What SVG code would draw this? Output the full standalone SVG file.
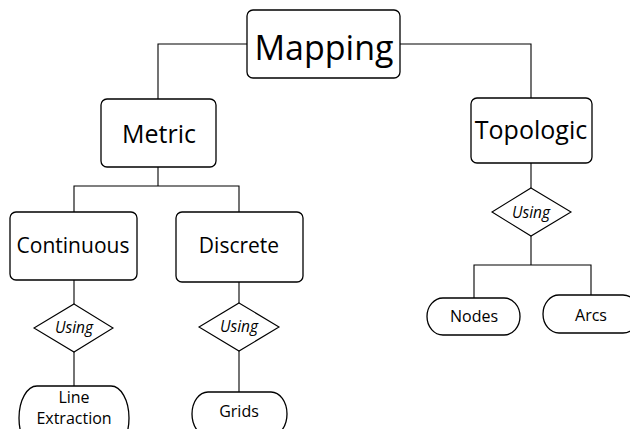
<svg xmlns="http://www.w3.org/2000/svg" width="630" height="429" viewBox="0 0 630 429">
  <style>
    .box { fill: #fff; stroke: #000; stroke-width: 1.3; }
    .dia { fill: #fff; stroke: #000; stroke-width: 1.1; }
    .edge { fill: none; stroke: #000; stroke-width: 1.1; }
    text { font-family: "Open Sans", "Liberation Sans", sans-serif; fill: #000; text-anchor: middle; }
    .using { font-style: italic; font-size: 15.5px; }
    .leaf { font-size: 16px; }
  </style>
  <rect width="630" height="429" fill="#fff"/>

  <g id="connectors">
    <polyline class="edge" points="247,44 158,44 158,99"/>
    <polyline class="edge" points="400,44 531,44 531,98"/>
    <line class="edge" x1="158" y1="167" x2="158" y2="186"/>
    <polyline class="edge" points="74,212 74,186 239,186 239,212"/>
    <line class="edge" x1="74" y1="280" x2="74" y2="304"/>
    <line class="edge" x1="74" y1="352" x2="74" y2="386"/>
    <line class="edge" x1="239" y1="282" x2="239" y2="303"/>
    <line class="edge" x1="239" y1="351" x2="239" y2="392"/>
    <line class="edge" x1="531" y1="163" x2="531" y2="188"/>
    <line class="edge" x1="531" y1="236" x2="531" y2="265"/>
    <polyline class="edge" points="474,298 474,265 591,265 591,295"/>
  </g>

  <g id="mapping">
    <rect class="box" x="247" y="10" width="153" height="68" rx="6"/>
    <text x="324" y="60" font-size="34">Mapping</text>
  </g>

  <g id="metric">
    <rect class="box" x="101" y="99" width="115" height="68" rx="6"/>
    <text x="159" y="143" font-size="25">Metric</text>
  </g>

  <g id="topologic">
    <rect class="box" x="471" y="98" width="121" height="65" rx="6"/>
    <text x="531" y="139" font-size="25">Topologic</text>
  </g>

  <g id="continuous">
    <rect class="box" x="10" y="212" width="127" height="68" rx="6"/>
    <text x="73" y="253" font-size="21">Continuous</text>
  </g>

  <g id="discrete">
    <rect class="box" x="176" y="212" width="127" height="70" rx="6"/>
    <text x="239" y="253" font-size="21">Discrete</text>
  </g>

  <g id="using-continuous">
    <polygon class="dia" points="74,304 113,328 74,352 34,328"/>
    <text class="using" x="74" y="333">Using</text>
  </g>

  <g id="using-discrete">
    <polygon class="dia" points="239,303 279,327 239,351 199,327"/>
    <text class="using" x="239" y="332">Using</text>
  </g>

  <g id="using-topologic">
    <polygon class="dia" points="531,188 571,212 531,236 492,212"/>
    <text class="using" x="531" y="218">Using</text>
  </g>

  <g id="line-extraction">
    <rect class="box" x="19" y="386" width="110" height="64" rx="18" ry="32"/>
    <text class="leaf" x="74" y="403" font-size="15.5">Line</text>
    <text class="leaf" x="74" y="424" font-size="15.5">Extraction</text>
  </g>

  <g id="grids">
    <rect class="box" x="192" y="392" width="95" height="44" rx="16" ry="22"/>
    <text class="leaf" x="239" y="417">Grids</text>
  </g>

  <g id="nodes">
    <rect class="box" x="427" y="298" width="93" height="37" rx="16" ry="18.5"/>
    <text class="leaf" x="474" y="322">Nodes</text>
  </g>

  <g id="arcs">
    <rect class="box" x="543" y="295" width="96" height="38" rx="16" ry="19"/>
    <text class="leaf" x="591" y="321">Arcs</text>
  </g>
</svg>
